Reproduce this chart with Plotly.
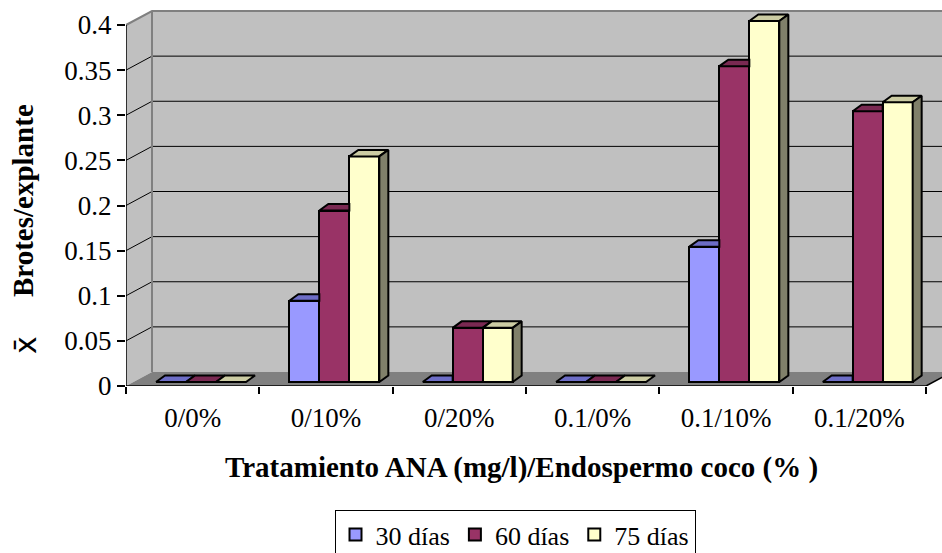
import plotly.graph_objects as go

# ---------------- data ----------------
categories = ["0/0%", "0/10%", "0/20%", "0.1/0%", "0.1/10%", "0.1/20%"]
series_names = ["30 días", "60 días", "75 días"]
dias30 = [0, 0.09, 0, 0, 0.15, 0]
dias60 = [0, 0.19, 0.06, 0, 0.35, 0.30]
dias75 = [0, 0.25, 0.06, 0, 0.40, 0.31]
y_tick_values = [0, 0.05, 0.1, 0.15, 0.2, 0.25, 0.3, 0.35, 0.4]
y_tick_labels = ["0", "0.05", "0.1", "0.15", "0.2", "0.25", "0.3", "0.35", "0.4"]
x_title = "Tratamiento ANA (mg/l)/Endospermo coco (% )"
y_title = "Brotes/explante"
y_symbol = "x\u0304"

front_colors = ["#9999FF", "#993366", "#FFFFCC"]
top_colors = ["#6D6DC6", "#7A2952", "#CCCCA3"]
side_colors = ["#4D4D80", "#4D1A33", "#80806A"]

# ---------------- geometry (pixels -> axis units) ----------------
W, H = 942, 553
PLOT_L, PLOT_T, PLOT_B = 126, 9, 386
N = len(categories)
PX_CAT = 800.0 / N            # pixels per category
PX_UNIT = 361.0 / 0.4         # pixels per value unit
X_MAX = (W - PLOT_L) / PX_CAT
Y_MAX = (PLOT_B - PLOT_T) / PX_UNIT

WDX, WDY = 26 / PX_CAT, 14 / PX_UNIT     # wall depth
BW = 30 / PX_CAT                          # bar width
BOFF = 30 / PX_CAT                        # first bar offset in category
BOY = 4 / PX_UNIT                         # bar base lift (depth)
BDX, BDY = 9 / PX_CAT, 6.5 / PX_UNIT      # bar depth

series = [dias30, dias60, dias75]
ymax_tick = y_tick_values[-1]

fig = go.Figure()

# front faces (real bars)
for j, vals in enumerate(series):
    xs = [i + BOFF + (j + 0.5) * BW for i in range(N)]
    fig.add_trace(go.Bar(
        x=xs, y=vals, base=BOY, width=BW, name=series_names[j],
        marker=dict(color=front_colors[j], line=dict(color="black", width=2)),
        showlegend=True, hoverinfo="skip"))

# top faces
for j, vals in enumerate(series):
    px, py = [], []
    for i, v in enumerate(vals):
        xl = i + BOFF + j * BW
        xr = xl + BW
        t = BOY + v
        nxt = series[j + 1][i] if j + 1 < len(series) else None
        if nxt is not None and nxt > v:
            px += [xl, xr, xr, xl + BDX, xl, None]
            py += [t, t, t + BDY, t + BDY, t, None]
        else:
            px += [xl, xr, xr + BDX, xl + BDX, xl, None]
            py += [t, t, t + BDY, t + BDY, t, None]
    fig.add_trace(go.Scatter(
        x=px, y=py, mode="lines", fill="toself", fillcolor=top_colors[j],
        line=dict(color="black", width=2), showlegend=False, hoverinfo="skip"))

# side faces (only the visible ones)
for j, vals in enumerate(series):
    px, py = [], []
    for i, v in enumerate(vals):
        if v <= 0:
            continue
        xr = i + BOFF + (j + 1) * BW
        t = BOY + v
        nxt = series[j + 1][i] if j + 1 < len(series) else None
        if nxt is None:
            low = BOY
        elif nxt < v:
            low = BOY + nxt
        else:
            continue
        px += [xr, xr + BDX, xr + BDX, xr, xr, None]
        py += [low, low + BDY, t + BDY, t, low, None]
    if px:
        fig.add_trace(go.Scatter(
            x=px, y=py, mode="lines", fill="toself", fillcolor=side_colors[j],
            line=dict(color="black", width=2), showlegend=False, hoverinfo="skip"))

# ---------------- walls, floor, gridlines ----------------
shapes = []
shapes.append(dict(type="rect", xref="x", yref="y", x0=WDX, x1=X_MAX + 1,
                   y0=WDY, y1=ymax_tick + WDY, fillcolor="#C0C0C0",
                   line=dict(width=0), layer="below"))
shapes.append(dict(type="path", xref="x", yref="y",
                   path=f"M0,0 L0,{ymax_tick} L{WDX},{ymax_tick + WDY} L{WDX},{WDY} Z",
                   fillcolor="#C0C0C0", line=dict(width=0), layer="below"))
shapes.append(dict(type="path", xref="x", yref="y",
                   path=f"M0,0 L{N},0 L{N + WDX},{WDY} L{X_MAX + 1},{WDY} L{WDX},{WDY} Z",
                   fillcolor="#808080", line=dict(width=0), layer="below"))
for v in y_tick_values[1:-1]:
    shapes.append(dict(type="line", xref="x", yref="y", x0=WDX, x1=X_MAX + 1,
                       y0=v + WDY, y1=v + WDY, line=dict(color="black", width=1),
                       layer="below"))
    shapes.append(dict(type="line", xref="x", yref="y", x0=0, x1=WDX,
                       y0=v, y1=v + WDY, line=dict(color="black", width=1),
                       layer="below"))
shapes.append(dict(type="path", xref="x", yref="y",
                   path=f"M0,{ymax_tick} L{WDX},{ymax_tick + WDY} L{X_MAX + 1},{ymax_tick + WDY}",
                   line=dict(color="#808080", width=2), layer="below"))
shapes.append(dict(type="line", xref="x", yref="y", x0=WDX, x1=WDX,
                   y0=WDY, y1=ymax_tick + WDY, line=dict(color="#808080", width=2),
                   layer="below"))
shapes.append(dict(type="line", xref="x", yref="y", x0=0, x1=0, y0=0, y1=ymax_tick,
                   line=dict(color="black", width=1.5), layer="below"))
shapes.append(dict(type="path", xref="x", yref="y",
                   path=f"M0,0 L{N},0 L{N + WDX},{WDY}",
                   line=dict(color="black", width=1.5), layer="below"))

# ---------------- annotations (titles) ----------------
FONT = "Liberation Serif, Times New Roman, serif"
def px2paper(xp, yp):
    return (xp - PLOT_L) / (W - PLOT_L), (PLOT_B - yp) / (PLOT_B - PLOT_T)

annotations = []
ax, ay = px2paper(521, 467)
annotations.append(dict(text=f"<b>{x_title}</b>", x=ax, y=ay, xref="paper", yref="paper",
                        xanchor="center", yanchor="middle", showarrow=False,
                        font=dict(family=FONT, size=29, color="black")))
ax, ay = px2paper(23, 201)
annotations.append(dict(text=f"<b>{y_title}</b>", x=ax, y=ay, xref="paper", yref="paper",
                        xanchor="center", yanchor="middle", showarrow=False, textangle=-90,
                        font=dict(family=FONT, size=29, color="black")))
ax, ay = px2paper(25, 345)
annotations.append(dict(text=y_symbol, x=ax, y=ay, xref="paper", yref="paper",
                        xanchor="center", yanchor="middle", showarrow=False, textangle=-90,
                        font=dict(family="DejaVu Sans", size=30, color="black")))

lx, ly = px2paper(515, 510)

fig.update_layout(
    width=W, height=H,
    margin=dict(l=PLOT_L, r=0, t=PLOT_T, b=H - PLOT_B, pad=0, autoexpand=False),
    paper_bgcolor="white", plot_bgcolor="white",
    barmode="overlay", bargap=0,
    shapes=shapes, annotations=annotations,
    font=dict(family=FONT, size=27, color="black"),
    xaxis=dict(range=[0, X_MAX], showgrid=False, zeroline=False, showline=False,
               automargin=False,
               tickmode="array", tickvals=[i + 0.5 for i in range(N)], ticktext=categories,
               ticks="", ticklabelstandoff=13,
               minor=dict(tickmode="array", tickvals=list(range(N + 1)), ticks="outside",
                          ticklen=7, tickcolor="black", tickwidth=1.5, showgrid=False),
               tickfont=dict(family=FONT, size=27, color="black"), fixedrange=True),
    yaxis=dict(range=[0, Y_MAX], showgrid=False, zeroline=False, showline=False,
               automargin=False,
               tickmode="array", tickvals=y_tick_values, ticktext=y_tick_labels,
               ticks="outside", ticklen=8, tickcolor="black", tickwidth=1.5,
               tickfont=dict(family=FONT, size=27, color="black"), fixedrange=True),
    legend=dict(orientation="h", x=lx, y=ly, xanchor="center", yanchor="top",
                bordercolor="black", borderwidth=1, bgcolor="white",
                font=dict(family=FONT, size=26, color="black"),
                itemsizing="constant", traceorder="normal"),
    showlegend=True,
)

fig.write_html(
    "out.html",
    config={"displayModeBar": False},
    post_script="document.body.style.margin='0px';document.body.style.overflow='hidden';",
)
